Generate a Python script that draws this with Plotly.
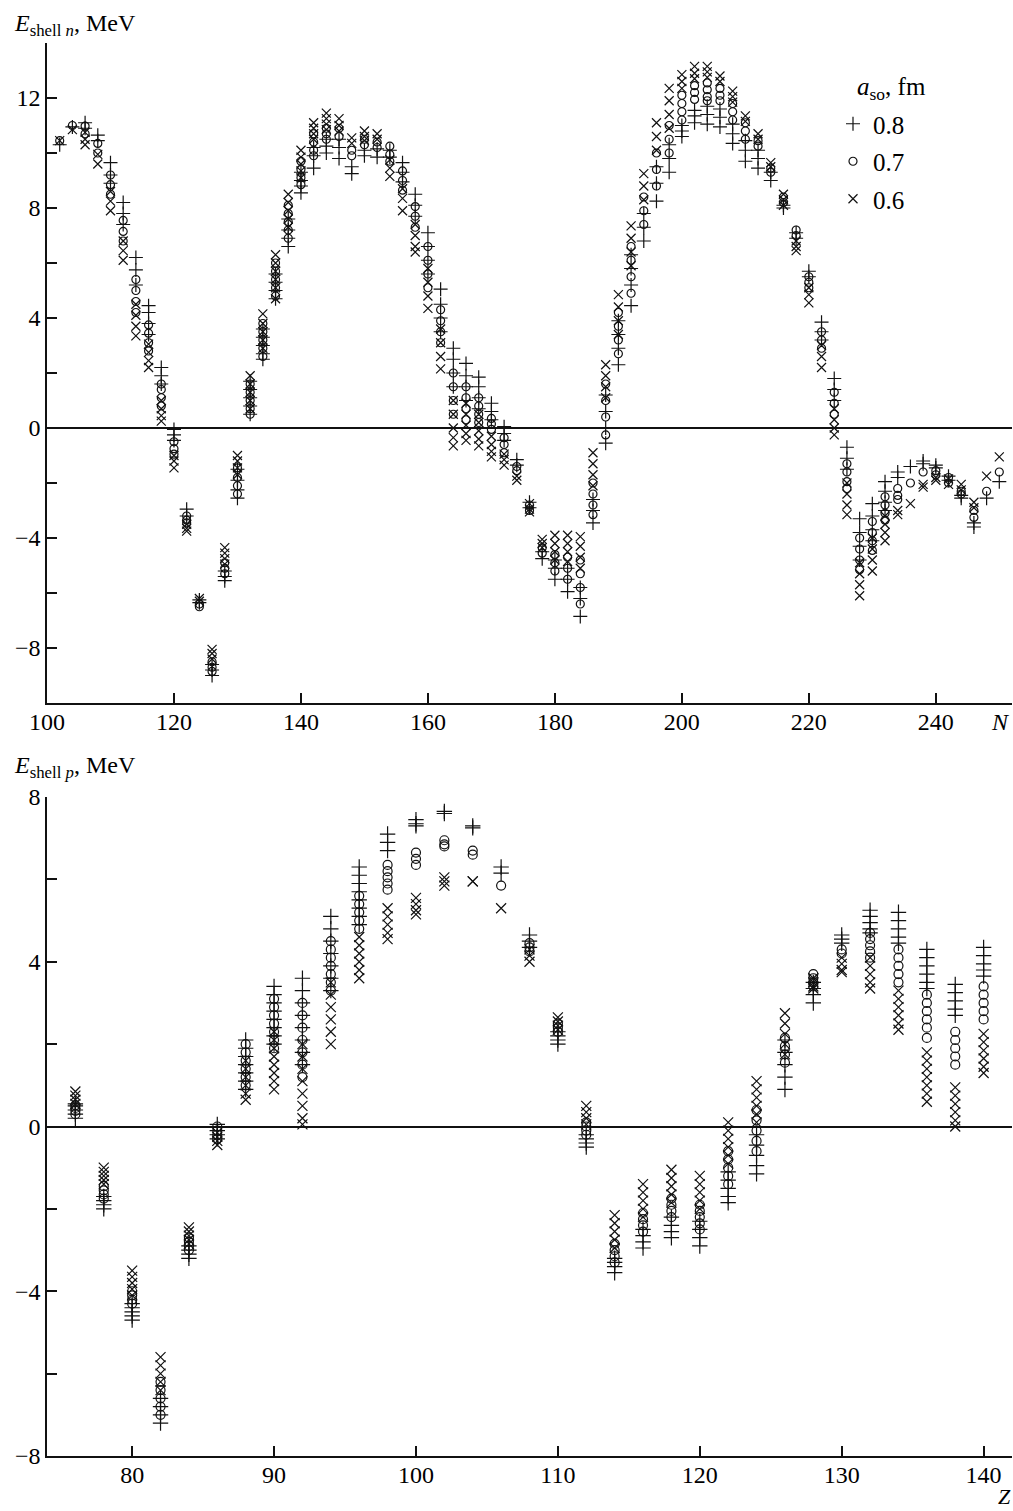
import plotly.graph_objects as go
from plotly.subplots import make_subplots

# ---------------- top panel: neutron shell correction vs N ----------------
N_COLS = [102, 104, 106, 108, 110, 112, 114, 116, 118, 120, 122, 124, 126, 128, 130,
          132, 134, 136, 138, 140, 142, 144, 146, 148, 150, 152, 154, 156, 158, 160,
          162, 164, 166, 168, 170, 172, 174, 176, 178, 180, 182, 184, 186, 188, 190,
          192, 194, 196, 198, 200, 202, 204, 206, 208, 210, 212, 214, 216, 218, 220,
          222, 224, 226, 228, 230, 232, 234, 236, 238, 240, 242, 244, 246, 248, 250]

N_PLUS = [[10.3], [10.95], [11.1, 10.9], [10.65, 10.45], [9.65, 9.2, 8.9],
          [8.2, 7.8, 7.4], [6.2, 5.75, 5.2], [4.45, 4.2, 3.8, 3.4], [2.2, 1.9, 1.6],
          [-0.05, -0.25, -0.45], [-2.95, -3.2], [-6.25, -6.35], [-8.6, -8.8, -9.0],
          [-5.2, -5.4, -5.55], [-1.5, -1.9, -2.25, -2.55], [1.7, 1.4, 1.1, 0.8, 0.5],
          [3.6, 3.3, 3.0, 2.7, 2.5], [5.6, 5.3, 5.0, 4.7], [7.6, 7.2, 6.9, 6.6],
          [9.3, 9.0, 8.8, 8.55], [10.2, 9.9, 9.45], [10.5, 10.25, 10.0],
          [10.5, 10.2, 9.8], [9.5, 9.25], [10.1, 9.9], [10.15, 9.85], [10.1, 9.85],
          [9.65, 9.3, 8.95], [8.5, 8.1, 7.7], [7.1, 6.6, 6.1, 5.6], [5.05, 4.5, 4.0, 3.5],
          [2.9, 2.5, 2.0, 1.5], [2.35, 1.9, 1.5, 1.0], [1.85, 1.5, 1.1, 0.7],
          [0.9, 0.6, 0.3], [0.05, -0.2, -0.45], [-1.15, -1.35], [-2.7, -2.9],
          [-4.5, -4.75], [-4.8, -5.1, -5.5], [-5.1, -5.5, -5.95], [-5.8, -6.2, -6.85],
          [-2.6, -3.0, -3.45], [1.2, 0.6, 0.0, -0.55], [3.9, 3.4, 2.9, 2.3],
          [6.3, 5.8, 5.2, 4.45], [7.8, 7.3, 6.8], [9.5, 8.9, 8.25], [10.3, 9.8, 9.3],
          [11.0, 10.8, 10.6], [11.55, 11.35, 11.1], [11.7, 11.4, 11.05],
          [11.6, 11.3, 10.95], [11.05, 10.7, 10.35], [10.45, 10.1, 9.7],
          [10.1, 9.8, 9.45], [9.3, 9.0], [8.1, 8.0], [7.1, 6.9], [5.7, 5.5],
          [3.85, 3.5, 3.2], [1.8, 1.4, 1.0], [-0.7, -1.1, -1.5], [-3.3, -3.8, -4.3, -4.8],
          [-2.75, -3.2, -3.7, -4.1], [-1.95, -2.3, -2.7, -3.0], [-1.6, -1.8], [-1.4],
          [-1.2, -1.3], [-1.35, -1.45], [-1.75, -1.9], [-2.45, -2.55], [-3.45, -3.6],
          [-2.55], [-1.95]]

N_CIRC = [[10.45], [11.0], [10.98, 10.7], [10.35, 10.0], [9.2, 8.85, 8.5],
          [7.55, 7.15, 6.8], [5.4, 5.0, 4.6, 4.2], [3.75, 3.45, 3.1, 2.8],
          [1.6, 1.4, 1.1, 0.8], [-0.5, -0.75, -0.95], [-3.2, -3.35, -3.45],
          [-6.4, -6.5], [-8.5, -8.7, -8.85], [-4.9, -5.1, -5.3], [-1.45, -1.8, -2.1, -2.4],
          [1.6, 1.3, 1.0, 0.7, 0.5], [3.8, 3.5, 3.2, 2.9, 2.6], [6.0, 5.7, 5.4, 5.1, 4.8],
          [8.1, 7.8, 7.5, 7.2, 6.9], [9.7, 9.4, 9.1, 8.85], [10.7, 10.4, 10.1, 9.9],
          [10.9, 10.7, 10.5], [10.9, 10.6], [10.1, 9.9], [10.5, 10.3], [10.4, 10.2],
          [10.25, 9.95, 9.7], [9.35, 9.0, 8.65], [8.05, 7.7, 7.3], [6.6, 6.1, 5.6, 5.1],
          [4.3, 3.9, 3.5, 3.1], [2.0, 1.5, 1.0, 0.5], [1.5, 1.1, 0.7, 0.3],
          [1.1, 0.8, 0.5, 0.2], [0.35, 0.15, -0.05], [-0.35, -0.6, -0.9], [-1.4, -1.55],
          [-2.8, -3.0], [-4.35, -4.55], [-4.6, -4.9, -5.2], [-4.7, -5.1, -5.5],
          [-4.8, -5.3, -5.8, -6.4], [-2.0, -2.4, -2.8, -3.15], [1.6, 1.0, 0.4, -0.25],
          [4.2, 3.7, 3.2, 2.7], [6.6, 6.1, 5.5, 4.9], [8.4, 7.9, 7.4], [10.0, 9.4, 8.8],
          [11.0, 10.5, 10.0], [12.1, 11.8, 11.5, 11.2], [12.45, 12.2, 11.95],
          [12.55, 12.3, 12.05, 11.9], [12.35, 12.1, 11.9], [11.8, 11.5, 11.2],
          [11.1, 10.8, 10.5], [10.45, 10.25], [9.45, 9.3], [8.4, 8.2], [7.2, 7.0],
          [5.5, 5.3, 5.1], [3.5, 3.2, 2.9], [1.3, 0.9, 0.5], [-1.3, -1.6, -1.95, -2.2],
          [-4.0, -4.4, -4.8, -5.15], [-3.4, -3.8, -4.1, -4.45], [-2.5, -2.8, -3.1, -3.35],
          [-2.2, -2.45, -2.6], [-2.0], [-1.6], [-1.55, -1.7], [-1.8, -2.0], [-2.3, -2.4],
          [-3.0, -3.25], [-2.3], [-1.6]]

N_X = [[10.45], [10.85], [10.75, 10.5, 10.3], [9.95, 9.6], [8.6, 8.25, 7.9],
       [6.8, 6.45, 6.1], [4.5, 4.1, 3.7, 3.35], [3.05, 2.75, 2.45, 2.2],
       [1.0, 0.7, 0.45, 0.25], [-1.0, -1.2, -1.45], [-3.5, -3.65, -3.75], [-6.2, -6.3],
       [-8.05, -8.2, -8.4], [-4.35, -4.55, -4.75, -4.95], [-1.0, -1.2, -1.45, -1.7],
       [1.9, 1.6, 1.3, 1.0, 0.7], [4.15, 3.8, 3.5, 3.2, 2.9],
       [6.3, 6.0, 5.7, 5.4, 5.1, 4.7], [8.5, 8.2, 7.9, 7.6, 7.3],
       [10.1, 9.85, 9.6, 9.35, 9.1], [11.1, 10.9, 10.7, 10.5],
       [11.45, 11.25, 11.05, 10.85], [11.25, 11.0, 10.8], [10.55, 10.35],
       [10.8, 10.6, 10.45], [10.7, 10.5], [9.75, 9.45, 9.15], [8.7, 8.35, 7.9],
       [7.4, 7.0, 6.6, 6.4], [5.8, 5.3, 4.8, 4.35], [3.6, 3.1, 2.6, 2.15],
       [1.0, 0.5, 0.0, -0.35, -0.65], [0.9, 0.5, 0.1, -0.2, -0.45],
       [0.5, 0.2, -0.1, -0.4, -0.65], [-0.3, -0.6, -0.85, -1.05], [-0.95, -1.15, -1.35],
       [-1.75, -1.9], [-2.75, -2.95, -3.05], [-4.05, -4.2, -4.35], [-3.9, -4.2, -4.5, -4.8],
       [-3.9, -4.2, -4.5, -4.85], [-3.95, -4.3, -4.7, -5.1], [-0.9, -1.3, -1.7, -2.1],
       [2.3, 1.9, 1.5, 1.1], [4.85, 4.4, 3.9, 3.4], [7.35, 6.9, 6.4, 5.9],
       [9.25, 8.8, 8.3], [11.1, 10.6, 10.1], [12.35, 11.9, 11.4, 10.9],
       [12.85, 12.6, 12.35], [13.15, 12.9, 12.7], [13.15, 12.95, 12.75], [12.8, 12.6],
       [12.25, 12.05, 11.85], [11.35, 11.15], [10.7, 10.5], [9.65, 9.5], [8.5, 8.3, 8.1],
       [6.8, 6.6, 6.45], [5.1, 4.85, 4.55], [3.0, 2.6, 2.2], [0.7, 0.3, 0.0, -0.25],
       [-2.0, -2.4, -2.8, -3.15], [-4.9, -5.3, -5.7, -6.1], [-4.0, -4.4, -4.8, -5.2],
       [-3.2, -3.5, -3.8, -4.1], [-3.0, -3.15], [-2.75], [-2.05, -2.15], [-1.8, -1.9],
       [-1.85, -2.05], [-2.05, -2.25], [-2.7, -2.9], [-1.75], [-1.05]]

# ---------------- bottom panel: proton shell correction vs Z ----------------
Z_COLS = [76, 78, 80, 82, 84, 86, 88, 90, 92, 94, 96, 98, 100, 102, 104, 106, 108,
          110, 112, 114, 116, 118, 120, 122, 124, 126, 128, 130, 132, 134, 136, 138, 140]

Z_PLUS = [[0.2, 0.3, 0.4, 0.5, 0.55], [-1.7, -1.8, -1.9, -2.0],
          [-4.3, -4.4, -4.5, -4.6, -4.7], [-6.6, -6.8, -7.0, -7.2],
          [-2.9, -3.0, -3.1, -3.2], [0.05, -0.1, -0.2, -0.3],
          [2.1, 1.9, 1.7, 1.5, 1.3, 1.1, 0.9], [3.4, 3.2, 3.0, 2.8, 2.6, 2.4, 2.2, 2.0],
          [3.6, 3.3, 3.0, 2.7, 2.4, 2.1, 1.8, 1.5], [5.1, 4.8, 4.5, 4.2, 3.9, 3.6, 3.3],
          [6.3, 6.1, 5.9, 5.7, 5.5, 5.3, 5.1, 4.9], [7.1, 6.9, 6.7], [7.45, 7.35, 7.3],
          [7.65, 7.6], [7.3, 7.25], [6.3, 6.15], [4.65, 4.5, 4.35],
          [2.3, 2.2, 2.1, 2.0], [-0.2, -0.3, -0.4, -0.5], [-3.2, -3.3, -3.4, -3.55],
          [-2.5, -2.65, -2.8, -2.95], [-2.2, -2.4, -2.55, -2.7], [-2.3, -2.5, -2.7, -2.9],
          [-1.1, -1.3, -1.5, -1.7, -1.85], [-0.2, -0.45, -0.7, -0.95, -1.15],
          [2.1, 1.8, 1.5, 1.2, 0.9], [3.5, 3.35, 3.2, 3.0], [4.65, 4.55, 4.45],
          [5.25, 5.1, 4.95, 4.8, 4.7], [5.2, 5.0, 4.8, 4.6, 4.45],
          [4.3, 4.1, 3.9, 3.7, 3.5, 3.35], [3.45, 3.25, 3.05, 2.85, 2.7],
          [4.35, 4.15, 3.95, 3.8, 3.65]]

Z_CIRC = [[0.3, 0.38, 0.45, 0.52], [-1.45, -1.55, -1.65, -1.75], [-4.0, -4.1, -4.2, -4.3],
          [-6.2, -6.4, -6.6, -6.8, -7.0], [-2.7, -2.8, -2.9, -3.0], [0.0, -0.1, -0.2, -0.3],
          [2.0, 1.8, 1.6, 1.4, 1.2, 1.0], [3.1, 2.9, 2.7, 2.5, 2.3, 2.1, 1.9],
          [3.0, 2.7, 2.4, 2.1, 1.8, 1.5, 1.2], [4.5, 4.3, 4.1, 3.9, 3.7, 3.5, 3.3],
          [5.6, 5.4, 5.2, 5.0, 4.8], [6.35, 6.2, 6.05, 5.9, 5.75], [6.65, 6.5, 6.35],
          [6.95, 6.85, 6.8], [6.7, 6.6], [5.85], [4.45, 4.35, 4.25], [2.5, 2.4, 2.3],
          [0.1, 0.0, -0.1, -0.2], [-2.85, -3.0, -3.15, -3.3], [-2.1, -2.25, -2.4, -2.55],
          [-1.75, -1.9, -2.05, -2.2], [-1.9, -2.05, -2.2, -2.35, -2.5],
          [-0.6, -0.8, -1.0, -1.2, -1.4], [0.4, 0.15, -0.1, -0.35, -0.6],
          [2.15, 1.95, 1.75, 1.55], [3.7, 3.6, 3.5, 3.4], [4.3, 4.2],
          [4.7, 4.55, 4.4, 4.25, 4.1], [4.3, 4.1, 3.9, 3.7, 3.5],
          [3.2, 3.0, 2.8, 2.6, 2.4, 2.15], [2.3, 2.1, 1.9, 1.7, 1.5],
          [3.4, 3.2, 3.0, 2.8, 2.6]]

Z_X = [[0.55, 0.65, 0.75, 0.85], [-1.0, -1.1, -1.2, -1.3, -1.4],
       [-3.5, -3.65, -3.8, -3.95, -4.1], [-5.6, -5.8, -6.0, -6.2, -6.4],
       [-2.45, -2.55, -2.65, -2.75, -2.85], [-0.15, -0.25, -0.35, -0.45],
       [1.6, 1.4, 1.2, 1.0, 0.8, 0.65], [2.3, 2.1, 1.9, 1.7, 1.5, 1.3, 1.1, 0.9],
       [2.0, 1.7, 1.4, 1.1, 0.8, 0.5, 0.2, 0.05], [3.5, 3.2, 2.9, 2.6, 2.3, 2.0],
       [4.6, 4.4, 4.2, 4.0, 3.8, 3.6], [5.3, 5.1, 4.9, 4.7, 4.55],
       [5.55, 5.4, 5.25, 5.15], [6.05, 5.95, 5.85], [5.95, 5.95], [5.3],
       [4.3, 4.15, 4.0], [2.65, 2.55, 2.45, 2.35], [0.5, 0.35, 0.2, 0.05],
       [-2.15, -2.35, -2.55, -2.75, -2.95], [-1.4, -1.6, -1.8, -2.0, -2.2],
       [-1.05, -1.25, -1.45, -1.65, -1.85], [-1.2, -1.4, -1.6, -1.8, -2.0],
       [0.1, -0.1, -0.3, -0.5, -0.7, -0.9], [1.1, 0.9, 0.7, 0.5, 0.3, 0.1],
       [2.75, 2.5, 2.25, 2.0, 1.75], [3.6, 3.5, 3.4, 3.35], [4.1, 3.95, 3.8, 3.75],
       [4.1, 3.9, 3.7, 3.5, 3.35], [3.3, 3.1, 2.9, 2.7, 2.5, 2.35],
       [1.8, 1.6, 1.4, 1.2, 1.0, 0.8, 0.6], [0.95, 0.75, 0.55, 0.35, 0.15, 0.0],
       [2.25, 2.05, 1.85, 1.65, 1.45, 1.3]]

SERIES_NAMES = ["0.8", "0.7", "0.6"]
SYMBOLS = ["cross-thin-open", "circle-open", "x-thin-open"]

TOP_Y_LABELS = [-8, -4, 0, 4, 8, 12]
BOT_Y_LABELS = [-8, -4, 0, 4, 8]
TOP_X_LABELS = [100, 120, 140, 160, 180, 200, 220, 240]
BOT_X_LABELS = [80, 90, 100, 110, 120, 130, 140]


def flatten(cols, lists):
    xs, ys = [], []
    for c, vals in zip(cols, lists):
        for v in vals:
            xs.append(c)
            ys.append(v)
    return xs, ys


FONT = "Liberation Serif, Times New Roman, DejaVu Serif, serif"
INK = "#111111"

fig = make_subplots(rows=2, cols=1, vertical_spacing=0.0)

top_sets = [N_PLUS, N_CIRC, N_X]
bot_sets = [Z_PLUS, Z_CIRC, Z_X]
top_sizes = [10, 8, 9]
bot_sizes = [11, 9, 10]

for i in range(3):
    xs, ys = flatten(N_COLS, top_sets[i])
    fig.add_trace(go.Scatter(
        x=xs, y=ys, mode="markers", name=SERIES_NAMES[i],
        legendgroup="g%d" % i,
        marker=dict(symbol=SYMBOLS[i], size=top_sizes[i], color=INK,
                    line=dict(width=1.2, color=INK)),
        showlegend=True), row=1, col=1)

for i in range(3):
    xs, ys = flatten(Z_COLS, bot_sets[i])
    fig.add_trace(go.Scatter(
        x=xs, y=ys, mode="markers", name=SERIES_NAMES[i],
        legendgroup="g%d" % i,
        marker=dict(symbol=SYMBOLS[i], size=bot_sizes[i], color=INK,
                    line=dict(width=1.2, color=INK)),
        showlegend=False), row=2, col=1)

W, H = 1013, 1511
ML, MR, MT, MB = 47, 1, 43, 55
PH = H - MT - MB
PW = W - ML - MR


def py2paper(py):
    return (H - MB - py) / PH


def px2paper(px):
    return (px - ML) / PW


top_dom = [py2paper(703), 1.0]
bot_dom = [0.0, py2paper(797)]


def minus(v):
    return ("\u2212%d" % -v) if v < 0 else "%d" % v


axis_common = dict(showline=True, linecolor=INK, linewidth=1.5, ticks="inside",
                   ticklen=10, tickwidth=1.5, tickcolor=INK, showgrid=False,
                   tickfont=dict(family=FONT, size=24, color="black"), mirror=False)
minor_y = dict(dtick=2, tick0=0, ticks="inside", ticklen=10, tickwidth=1.5,
               tickcolor=INK, showgrid=False)

fig.update_layout(
    width=W, height=H,
    margin=dict(l=ML, r=MR, t=MT, b=MB),
    paper_bgcolor="white", plot_bgcolor="white",
    font=dict(family=FONT, size=24, color="black"),
    xaxis=dict(range=[100, 252], tickvals=TOP_X_LABELS,
               ticktext=[minus(v) for v in TOP_X_LABELS], ticklabelstandoff=-4,
               zeroline=False, **axis_common),
    yaxis=dict(range=[-10, 14], domain=top_dom, tickvals=TOP_Y_LABELS,
               ticktext=[minus(v) for v in TOP_Y_LABELS], minor=minor_y,
               zeroline=True, zerolinecolor=INK, zerolinewidth=1.5, **axis_common),
    xaxis2=dict(range=[74, 142], tickvals=BOT_X_LABELS,
                ticktext=[minus(v) for v in BOT_X_LABELS], ticklabelstandoff=-4,
                zeroline=False, **axis_common),
    yaxis2=dict(range=[-8, 8], domain=bot_dom, tickvals=BOT_Y_LABELS,
                ticktext=[minus(v) for v in BOT_Y_LABELS], minor=minor_y,
                zeroline=True, zerolinecolor=INK, zerolinewidth=1.5, **axis_common),
    legend=dict(x=px2paper(833), y=py2paper(101), xanchor="left", yanchor="top",
                bgcolor="rgba(0,0,0,0)", borderwidth=0,
                font=dict(family=FONT, size=25, color="black"),
                traceorder="grouped", tracegroupgap=2, itemwidth=30),
    showlegend=True,
)

annotations = [
    dict(text="<i>E</i><sub>shell <i>n</i></sub>, MeV", x=px2paper(12), y=py2paper(25),
         xanchor="left", yanchor="middle", size=24),
    dict(text="<i>E</i><sub>shell <i>p</i></sub>, MeV", x=px2paper(12), y=py2paper(767),
         xanchor="left", yanchor="middle", size=24),
    dict(text="<i>a</i><sub>so</sub>, fm", x=px2paper(855), y=py2paper(88),
         xanchor="left", yanchor="middle", size=25),
    dict(text="<i>N</i>", x=px2paper(1000), y=py2paper(722), xanchor="center",
         yanchor="middle", size=24),
    dict(text="<i>Z</i>", x=px2paper(1004), y=py2paper(1511), xanchor="center",
         yanchor="bottom", size=22),
]
for a in annotations:
    sz = a.pop("size")
    a.update(xref="paper", yref="paper", showarrow=False,
             font=dict(family=FONT, size=sz, color="black"))
fig.update_layout(annotations=annotations)

fig.write_html("out.html")
